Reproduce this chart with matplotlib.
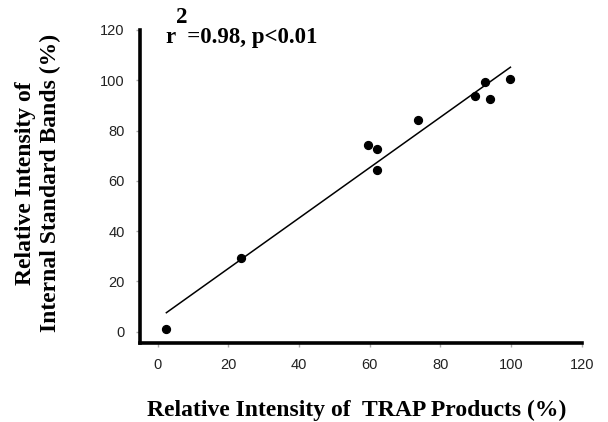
import matplotlib.pyplot as plt
import numpy as np

# relative intensity of TRAP products (%) vs internal standard bands (%)
trap = [2.5, 23.7, 59.4, 62.2, 62.0, 73.7, 89.8, 92.6, 93.9, 99.8]
istd = [1.2, 29.5, 74.4, 72.8, 64.3, 84.1, 93.7, 99.5, 92.5, 100.4]
ticks = [0, 20, 40, 60, 80, 100, 120]

serif = ['Liberation Serif', 'DejaVu Serif']
sans = ['Liberation Sans', 'DejaVu Sans']

fig = plt.figure(figsize=(6.08, 4.22), dpi=100)
ax = fig.add_axes([0.230, 0.187, 0.727, 0.742])

ax.scatter(trap, istd, s=32, color='black', zorder=3)
k, b = np.polyfit(trap, istd, 1)
xs = np.array([min(trap), max(trap)])
ax.plot(xs, k * xs + b, color='black', lw=1.1)

ax.set_xlim(-5, 120)
ax.set_ylim(-4.5, 120)
ax.set_xticks(ticks)
ax.set_yticks(ticks)
for lab in ax.get_xticklabels() + ax.get_yticklabels():
    lab.set_family(sans)
    lab.set_fontsize(10.5)
    lab.set_color('#222222')
ax.tick_params(axis='both', direction='out', length=3, width=1, color='#aaaaaa', pad=8)

for s in ['top', 'right']:
    ax.spines[s].set_visible(False)
for s in ['left', 'bottom']:
    ax.spines[s].set_linewidth(2.6)

ax.set_xlabel('Relative Intensity of  TRAP Products (%)', family=serif,
              fontweight='bold', fontsize=17, va='center')
ax.xaxis.set_label_coords(0.49, -0.214)
ax.set_ylabel('Relative Intensity of\nInternal Standard Bands (%)', family=serif,
              fontweight='bold', fontsize=17, linespacing=1.2, va='center')
ax.yaxis.set_label_coords(-0.23, 0.51)

ax.text(2.3, 114.8, 'r  =0.98, p<0.01', family=serif,
        fontweight='bold', fontsize=16.5, va='baseline', ha='left')
ax.text(5.3, 122.8, '2', family=serif,
        fontweight='bold', fontsize=16.5, va='baseline', ha='left')

fig.savefig('out.png', dpi=100)
